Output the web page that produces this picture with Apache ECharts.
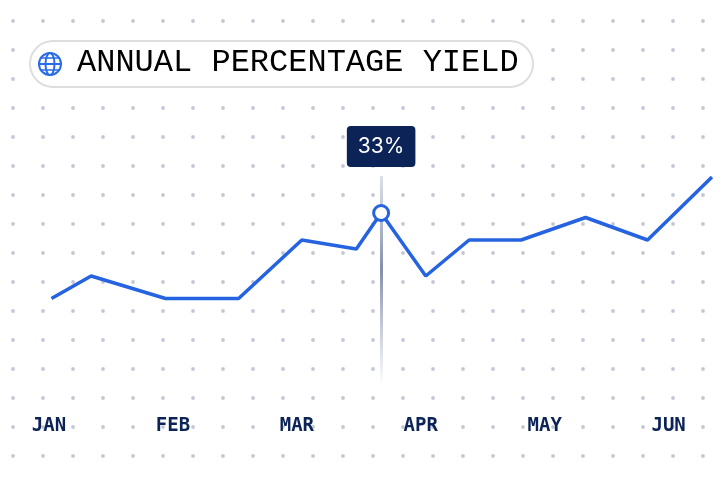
<!DOCTYPE html>
<html><head><meta charset="utf-8">
<script src="https://cdn.jsdelivr.net/npm/echarts@6/dist/echarts.min.js"></script>
<style>html,body{margin:0;padding:0;background:#fff}#c{width:720px;height:480px}</style>
</head><body><div id="c"></div>
<script>
const monthLabels = ['JAN','FEB','MAR','APR','MAY','JUN'];
const xPositions = [0.02,0.34,0.94,1.53,2.04,2.48,2.68,3.04,3.39,3.81,4.33,4.83,5.35];
const yieldValues = [14,19,14,14,27,25,33,19,27,27,32,27,41];
const highlightIndex = 6;

const tile = document.createElement('canvas');
tile.width = 30; tile.height = 29;
const ctx = tile.getContext('2d');
ctx.fillStyle = '#c2c8d5';
ctx.beginPath(); ctx.arc(13, 21, 1.9, 0, Math.PI*2); ctx.fill();

const data = xPositions.map((x,i)=>{
  const d = {value:[x, yieldValues[i]]};
  if (i === highlightIndex) {
    d.symbol = 'circle'; d.symbolSize = 15;
    d.itemStyle = {color:'#fff', borderColor:'#2563e0', borderWidth:3};
    d.label = {show:true, position:'top', distance:37, formatter: p=>p.value[1]+'%',
      color:'#fff', fontSize:21, fontFamily:'Inter', backgroundColor:'#0b2356',
      borderRadius:4, padding:[10,11,10,11]};
  }
  return d;
});

const chart = echarts.init(document.getElementById('c'));
chart.setOption({
  backgroundColor: {image: tile, repeat: 'repeat'},
  animation: false,
  grid: {left:49, right:8, top:136.5, bottom:73.5},
  xAxis: {type:'value', min:0, max:5.35, interval:1,
    axisLine:{show:false}, axisTick:{show:false}, splitLine:{show:false},
    axisLabel:{formatter:v=>monthLabels[v]||'', showMaxLabel:false, margin:10,
      color:'#0b2356', fontSize:19, fontWeight:'bold', fontFamily:'DejaVu Sans Mono'}},
  yAxis: {type:'value', min:-10, max:50, show:false},
  series: [{
    type:'line', data: data, symbol:'none', showSymbol:true,
    lineStyle:{color:'#2563e0', width:3.5}, itemStyle:{color:'#2563e0'},
    z:5,
    markLine:{silent:true, symbol:'none', label:{show:false},
      lineStyle:{width:3, type:'solid', color:{type:'linear',x:0,y:0,x2:0,y2:1,colorStops:[
        {offset:0,color:'rgba(120,135,165,0.25)'},
        {offset:0.45,color:'rgba(100,115,150,0.8)'},
        {offset:1,color:'rgba(120,135,165,0)'}]}},
      data:[[{coord:[xPositions[highlightIndex], 41.2]},{coord:[xPositions[highlightIndex], -5]}]]}
  }],
  graphic: [
    {type:'rect', shape:{x:30,y:41,width:503,height:46,r:23}, style:{fill:'#fff', stroke:'#dedede', lineWidth:2}},
    {type:'circle', shape:{cx:50,cy:64,r:11}, style:{fill:'none', stroke:'#2a6be8', lineWidth:2}},
    {type:'ellipse', shape:{cx:50,cy:64,rx:4.5,ry:11}, style:{fill:'none', stroke:'#2a6be8', lineWidth:2}},
    {type:'line', shape:{x1:39,y1:64,x2:61,y2:64}, style:{stroke:'#2a6be8', lineWidth:2}},
    {type:'line', shape:{x1:41,y1:58,x2:59,y2:58}, style:{stroke:'#2a6be8', lineWidth:1.5}},
    {type:'line', shape:{x1:41,y1:70,x2:59,y2:70}, style:{stroke:'#2a6be8', lineWidth:1.5}},
    {type:'text', left:77, top:47, style:{text:'ANNUAL PERCENTAGE YIELD', fill:'#000', fontSize:32, fontFamily:'Liberation Mono'}}
  ]
});
</script></body></html>
